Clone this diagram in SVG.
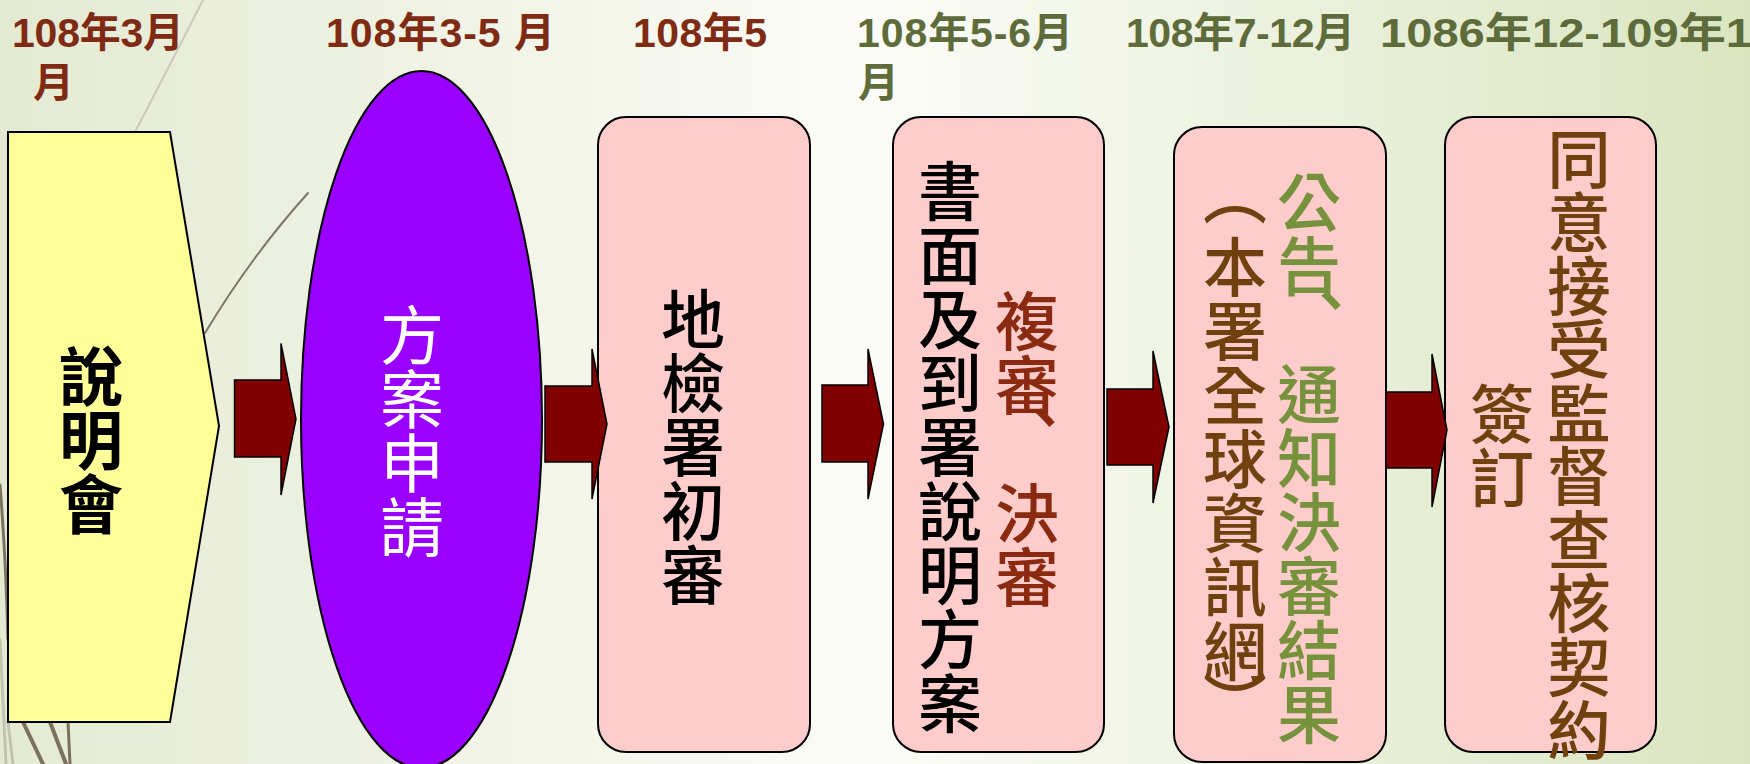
<svg xmlns="http://www.w3.org/2000/svg" width="1750" height="764" viewBox="0 0 1750 764">
<defs>
<linearGradient id="bg" x1="0" y1="0" x2="1" y2="0">
<stop offset="0" stop-color="#E4EAD2"/>
<stop offset="0.5" stop-color="#FBFCF7"/>
<stop offset="1" stop-color="#DAE5C0"/>
</linearGradient>
<style>
.hd{font-family:"Liberation Sans Narrow","Liberation Sans","Noto Sans CJK TC",sans-serif;font-weight:bold;font-size:41px}
.red{fill:#7F2B14}
.olive{fill:#5E6B3B}
.v{font-family:"Noto Sans CJK TC","Noto Sans CJK SC",sans-serif;font-size:64px;writing-mode:vertical-rl}
.box{fill:#FFCCCC;stroke:#000;stroke-width:2}
.arr{fill:#800000;stroke:#000;stroke-width:1.5}
.deco{fill:none;stroke-linecap:round}
</style>
</defs>
<rect width="1750" height="764" fill="url(#bg)"/>
<g id="decoration">
<path class="deco" d="M203,0 Q170,65 135,132" stroke="#C9CBBB" stroke-width="2"/>
<path class="deco" d="M308,193 Q252,255 205,333" stroke="#7D7565" stroke-width="2"/>
<path class="deco" d="M0,485 Q6,560 8,640" stroke="#7B715C" stroke-width="3"/>
<path class="deco" d="M0,640 L6,764" stroke="#C3C3B0" stroke-width="3"/>
<path class="deco" d="M8,722 L13,764" stroke="#C3C3B0" stroke-width="3"/>
<path class="deco" d="M23,722 L43,764" stroke="#7B715C" stroke-width="4"/>
<path class="deco" d="M50,722 L66,764" stroke="#7B715C" stroke-width="4"/>
<path class="deco" d="M68,722 L70,764" stroke="#7B715C" stroke-width="3"/>
</g>
<g id="dates">
<text class="hd red" x="12" y="47" textLength="172">108年3月</text>
<text class="hd red" x="33" y="97">月</text>
<text class="hd red" x="326" y="47" textLength="229">108年3-5 月</text>
<text class="hd red" x="633" y="47" textLength="134">108年5</text>
<text class="hd olive" x="857" y="47" textLength="216">108年5-6月</text>
<text class="hd olive" x="858" y="97">月</text>
<text class="hd olive" x="1126" y="47" textLength="229">108年7-12月</text>
<text class="hd olive" x="1380" y="47" textLength="372" lengthAdjust="spacingAndGlyphs">1086年12-109年1</text>
</g>
<g id="node-briefing">
<polygon points="8,132 170,132 219,426 170,722 8,722" fill="#FFFF99" stroke="#000" stroke-width="2"/>
<text class="v" x="91" y="344" font-weight="bold" fill="#000">說明會</text>
</g>
<g id="node-apply">
<ellipse cx="421.5" cy="419.5" rx="120.5" ry="348.5" fill="#9900FF" stroke="#000" stroke-width="2"/>
<text class="v" x="412" y="303" fill="#FFFFFF">方案申請</text>
</g>
<g id="node-initial">
<rect class="box" x="598" y="117" width="212" height="635" rx="28" ry="28"/>
<text class="v" x="693" y="287" font-weight="500" fill="#000">地檢署初審</text>
</g>
<g id="node-review">
<rect class="box" x="893" y="117" width="211" height="635" rx="28" ry="28"/>
<text class="v" x="950" y="159" font-weight="500" fill="#000">書面及到署說明方案</text>
<text class="v" x="1027" y="289" font-weight="500" fill="#8A2A10">複審<tspan dx="18" dy="-32">、</tspan><tspan dx="-18" dy="32">決審</tspan></text>
</g>
<g id="node-announce">
<rect class="box" x="1174" y="127" width="212" height="635" rx="28" ry="28"/>
<text class="v" x="1235" y="171" font-weight="500" fill="#70400E"><tspan dy="-9">（</tspan><tspan dy="9">本署全球資訊網</tspan><tspan dy="-12">）</tspan></text>
<text class="v" x="1309" y="170" font-weight="500" fill="#76923C">公告<tspan dx="22" dy="-30">、</tspan><tspan dx="-22" dy="30">通知決審結果</tspan></text>
</g>
<g id="node-contract">
<rect class="box" x="1445" y="117" width="211" height="635" rx="28" ry="28"/>
<text class="v" x="1502" y="382" font-weight="500" fill="#70400E">簽訂</text>
<text class="v" x="1579" y="127" font-weight="500" fill="#70400E" style="font-size:63.5px">同意接受監督查核契約</text>
</g>
<g id="connectors">
<polygon class="arr" points="234.5,380 281,380 281,343.5 296,419 281,495 281,457 234.5,457"/>
<polygon class="arr" points="545,386 592,386 592,349 607,424 592,499 592,462 545,462"/>
<polygon class="arr" points="822,385 868,385 868,349 883.5,424 868,499 868,462 822,462"/>
<polygon class="arr" points="1107,389 1153,389 1153,351 1169,427 1153,503 1153,465 1107,465"/>
<polygon class="arr" points="1386,392 1432,392 1432,354 1447,430 1432,507 1432,468 1386,468"/>
</g>
</svg>
